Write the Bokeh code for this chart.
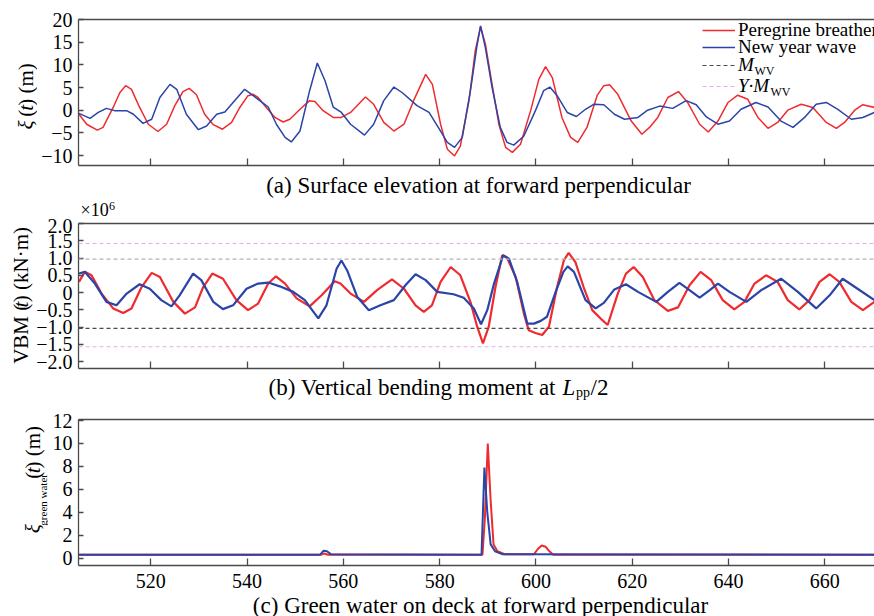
import math
from bokeh.plotting import figure
from bokeh.models import (FixedTicker, LinearAxis, Range1d, Span, Label,
                          Legend, LegendItem)
from bokeh.layouts import column, row
from bokeh.embed import file_html
from bokeh.resources import INLINE

# ---------------- data ----------------
X_TICKS = [520, 540, 560, 580, 600, 620, 640, 660]

# (a) surface elevation at forward perpendicular (m)
RED_A_T = [505.1, 506.7, 508.9, 510.1, 512.2, 513.6, 514.8, 516.0, 517.7, 519.5, 521.5, 523.3,
           525.0, 526.7, 528.0, 529.5, 531.2, 533.0, 534.9, 536.8, 538.5, 540.2, 541.3, 542.3,
           544.0, 545.8, 547.5, 548.9, 551.0, 553.0, 554.1, 555.8, 557.9, 559.6, 561.5, 564.6,
           566.3, 568.4, 570.5, 572.6, 574.6, 577.1, 578.5, 580.2, 581.6, 583.1, 584.3, 586.1,
           587.4, 588.5, 589.5, 590.9, 592.3, 593.7, 595.1, 596.8, 598.9, 600.6, 602.0, 603.4,
           605.4, 607.2, 608.7, 610.6, 612.7, 614.1, 615.3, 617.0, 619.8, 622.0, 623.6, 625.3,
           627.4, 629.6, 631.5, 634.0, 635.8, 637.8, 639.9, 641.9, 644.0, 646.1, 648.2, 650.2,
           652.3, 655.1, 657.5, 660.3, 662.4, 664.1, 666.2, 667.9, 670.3]
RED_A_V = [-0.9, -3.1, -4.4, -3.8, 0.6, 3.9, 5.4, 4.6, 0.6, -3.1, -4.7, -3.1,
           1.0, 4.1, 4.8, 3.4, -0.9, -3.2, -4.2, -2.7, 0.6, 3.2, 3.5, 2.8,
           0.6, -1.6, -2.6, -2.0, 0.2, 2.1, 1.9, -0.1, -1.6, -1.6, -0.5, 2.9,
           1.3, -2.7, -4.6, -3.1, 2.1, 7.9, 5.7, -3.1, -8.6, -10.1, -7.9, 2.1,
           13.1, 18.4, 14.6, 5.7, -3.1, -8.2, -9.3, -7.5, -0.1, 6.8, 9.6, 7.2,
           -1.6, -6.0, -7.1, -3.8, 3.2, 5.4, 5.6, 3.5, -2.4, -5.3, -3.8, -1.6,
           2.8, 4.1, 1.7, -3.1, -4.8, -2.4, 1.7, 3.3, 2.4, -1.6, -4.0, -2.7,
           0.0, 1.3, 0.6, -2.7, -4.0, -2.7, 0.0, 1.2, 0.6]
BLUE_A_T = [505.1, 507.4, 509.1, 510.8, 512.5, 515.0, 516.4, 518.4, 520.2, 521.9, 524.0, 525.4,
            527.4, 529.9, 531.6, 533.7, 535.4, 537.1, 539.5, 541.3, 543.4, 544.4, 546.1, 547.9,
            549.2, 551.0, 553.0, 554.6, 556.2, 557.9, 559.6, 561.5, 564.4, 566.3, 568.4, 570.5,
            572.2, 575.3, 577.8, 580.2, 581.6, 583.1, 584.7, 586.4, 587.7, 588.5, 589.5, 590.9,
            592.6, 594.0, 595.4, 597.5, 599.9, 601.6, 602.9, 604.4, 606.5, 608.4, 610.3, 612.0,
            614.1, 616.3, 618.4, 621.2, 623.2, 625.7, 628.4, 631.2, 633.3, 635.4, 637.8, 640.2,
            642.6, 645.7, 648.2, 650.9, 653.4, 655.8, 658.2, 660.3, 662.7, 665.5, 667.9, 670.3]
BLUE_A_V = [-0.7, -1.8, -0.5, 0.4, -0.1, -0.1, -0.9, -2.9, -2.0, 2.8, 5.7, 4.6,
            -0.9, -4.3, -3.5, -0.9, -0.4, 1.7, 4.6, 3.2, 1.5, 0.7, -3.1, -6.0,
            -7.0, -4.6, 4.3, 10.4, 6.5, 0.7, -0.5, -3.1, -5.5, -3.1, 2.1, 5.1,
            3.9, 1.0, -0.5, -4.6, -7.1, -8.2, -6.0, 4.3, 13.8, 18.6, 13.8, 5.0,
            -3.8, -7.1, -7.7, -5.7, -0.1, 4.3, 5.1, 3.2, -0.5, -1.4, 0.2, 1.3,
            1.2, -0.9, -2.0, -1.6, 0.0, 0.9, 0.4, 2.1, 1.2, -1.5, -3.1, -2.4,
            0.2, 1.7, 0.7, -2.4, -3.8, -1.6, 1.3, 1.7, 0.2, -2.0, -1.6, -0.5]

# (b) vertical bending moment at Lpp/2 (x10^6 kN.m)
RED_B_T = [505.1, 506.3, 507.7, 509.8, 512.2, 514.3, 516.0, 518.1, 520.2, 521.9, 524.7, 527.1,
           529.2, 530.9, 532.8, 535.0, 537.8, 540.2, 542.3, 544.4, 546.0, 547.9, 550.3, 553.0,
           555.5, 558.2, 559.4, 561.5, 564.3, 567.0, 570.1, 572.6, 575.0, 576.7, 578.4, 580.2,
           582.3, 584.3, 586.4, 587.8, 589.0, 590.2, 591.6, 593.0, 594.0, 595.8, 597.5, 598.5,
           599.9, 601.3, 602.7, 604.4, 605.8, 606.8, 608.2, 609.9, 611.7, 613.8, 614.9, 617.0,
           618.7, 620.3, 622.2, 624.6, 627.4, 629.5, 631.9, 634.2, 636.4, 638.8, 641.2, 643.3,
           645.4, 647.8, 650.2, 652.3, 654.7, 656.8, 658.9, 661.0, 663.0, 665.5, 667.9, 670.3]
RED_B_V = [0.31, 0.60, 0.50, -0.03, -0.46, -0.59, -0.46, 0.16, 0.57, 0.45, -0.27, -0.61,
           -0.43, 0.16, 0.55, 0.40, -0.22, -0.51, -0.32, 0.26, 0.47, 0.26, -0.17, -0.40,
           -0.08, 0.33, 0.26, -0.03, -0.27, 0.07, 0.38, 0.11, -0.37, -0.56, -0.37, 0.31,
           0.74, 0.50, -0.27, -0.99, -1.47, -0.99, 0.16, 1.08, 1.01, 0.45, -0.61, -1.09,
           -1.17, -1.23, -0.99, 0.16, 0.93, 1.15, 0.88, 0.16, -0.51, -0.80, -0.94, -0.03,
           0.55, 0.74, 0.45, -0.22, -0.53, -0.43, 0.21, 0.60, 0.36, -0.22, -0.49, -0.27,
           0.26, 0.50, 0.31, -0.22, -0.49, -0.22, 0.31, 0.53, 0.31, -0.27, -0.51, -0.27]
BLUE_B_T = [505.1, 506.3, 508.4, 510.8, 512.9, 515.0, 517.7, 519.8, 522.2, 524.3, 526.0, 528.8,
            530.5, 533.0, 535.0, 537.1, 539.9, 542.3, 544.4, 546.8, 549.6, 552.0, 554.8, 556.5,
            558.6, 559.6, 560.8, 562.9, 565.3, 567.7, 570.5, 572.9, 575.0, 577.1, 579.5, 582.9,
            585.0, 587.1, 588.6, 589.9, 591.3, 593.2, 594.4, 596.1, 598.2, 599.6, 601.0, 602.3,
            604.1, 605.7, 606.6, 607.9, 610.3, 612.4, 614.1, 616.3, 618.7, 621.2, 625.0, 627.4,
            629.8, 631.9, 634.0, 636.1, 637.8, 640.2, 643.7, 646.8, 650.9, 654.4, 658.2, 661.0,
            663.7, 666.8, 670.3]
BLUE_B_V = [0.55, 0.60, 0.26, -0.27, -0.37, -0.03, 0.24, 0.11, -0.22, -0.40, -0.08, 0.55,
            0.36, -0.27, -0.48, -0.37, 0.11, 0.26, 0.29, 0.18, 0.02, -0.22, -0.75, -0.37,
            0.69, 0.93, 0.64, -0.13, -0.51, -0.37, -0.22, 0.21, 0.53, 0.36, 0.02, -0.05,
            -0.15, -0.46, -0.92, -0.51, 0.26, 1.08, 0.98, 0.31, -0.90, -0.90, -0.82, -0.70,
            0.02, 0.60, 0.76, 0.60, -0.22, -0.46, -0.30, 0.09, 0.24, 0.02, -0.27, 0.02,
            0.28, 0.07, -0.15, 0.07, 0.26, 0.02, -0.27, 0.07, 0.40, 0.02, -0.46, -0.08,
            0.40, 0.11, -0.22]
M_WV = [0.97, -1.04]      # hogging / sagging design moment (x10^6 kN.m)
Y_M_WV = [1.42, -1.57]    # factored design moment (x10^6 kN.m)

# (c) green water on deck at forward perpendicular (m)
RED_C_T = [505.0, 555.3, 556.0, 556.8, 588.9, 589.4, 590.0, 590.6, 591.2, 592.0, 593.5,
           599.6, 600.4, 601.2, 602.0, 602.8, 603.6, 670.3]
RED_C_V = [0.3, 0.3, 0.4, 0.3, 0.3, 3.5, 10.0, 5.0, 1.2, 0.6, 0.35,
           0.35, 0.8, 1.1, 1.0, 0.6, 0.3, 0.3]
BLUE_C_T = [505.0, 555.2, 555.9, 556.6, 557.4, 588.7, 589.3, 589.9, 590.6, 591.5, 593.0, 670.3]
BLUE_C_V = [0.3, 0.3, 0.65, 0.6, 0.35, 0.3, 7.9, 4.0, 1.2, 0.6, 0.35, 0.3]

# ---------------- styling / geometry ----------------
FONT = "Liberation Serif"
RED = "#ef2b2f"
BLUE = "#2b44a8"
AX = "#4a4a4a"
GRAY_LIGHT = "#b4b4b4"
GRAY_DARK = "#4d4d4d"
PINK = "#e3aee3"

PAGE_W = 874
PX0 = 78                      # page x of every frame's left edge
FRAME_W = PAGE_W - PX0
X0 = 505.0
X1 = X0 + FRAME_W / 4.815
ROT = math.pi / 2
CAP = "23px"


def style_axes(p, yticks, yover, xlabels):
    for ax in p.xaxis + p.yaxis:
        ax.axis_line_color = AX
        ax.axis_line_width = 1.3
        ax.major_tick_line_color = AX
        ax.major_tick_line_width = 1.3
        ax.minor_tick_line_color = None
        ax.major_tick_out = 0
        ax.minor_tick_out = 0
        ax.major_label_text_font = FONT
        ax.major_label_text_font_size = "20px"
        ax.major_label_text_color = "black"
        ax.major_label_standoff = 6
    p.xaxis.ticker = FixedTicker(ticks=X_TICKS)
    p.xaxis.major_tick_in = 7
    p.yaxis.ticker = FixedTicker(ticks=yticks)
    p.yaxis.major_tick_in = 5
    if yover:
        p.yaxis.major_label_overrides = yover
    if xlabels:
        p.xaxis.major_label_standoff = 8
    else:
        p.xaxis.major_label_overrides = {t: "" for t in X_TICKS}
        p.xaxis.major_label_text_font_size = "1px"
        p.xaxis.major_label_standoff = 0
    top = LinearAxis(ticker=FixedTicker(ticks=[]), axis_line_color=AX, axis_line_width=1.3,
                     major_tick_line_color=None, minor_tick_line_color=None,
                     major_tick_out=0, major_tick_in=0, minor_tick_out=0, minor_tick_in=0,
                     major_label_standoff=0)
    p.add_layout(top, "above")


def plot_fig(width, height, left, top, bottom, yr):
    p = figure(width=width, height=height, x_range=Range1d(X0, X1), y_range=Range1d(*yr),
               output_backend="svg", toolbar_location=None,
               min_border_left=left, min_border_right=0,
               min_border_top=top, min_border_bottom=bottom)
    p.grid.visible = False
    p.outline_line_color = None
    p.background_fill_color = "white"
    p.border_fill_color = "white"
    return p


def text_fig(width, height):
    p = figure(width=width, height=height, x_range=Range1d(0, width), y_range=Range1d(0, height),
               output_backend="svg", toolbar_location=None, x_axis_type=None, y_axis_type=None,
               min_border=0)
    p.outline_line_color = None
    p.background_fill_color = "white"
    p.border_fill_color = "white"
    return p


def lab(p, x, y, text, size, style="normal", align="left", angle=0.0):
    p.add_layout(Label(x=x, y=y, text=text, text_font=FONT, text_font_size=size,
                       text_font_style=style, text_align=align, text_baseline="middle",
                       text_color="black", angle=angle))


# ---------------- panel (a)  (page y 0..170) ----------------
YA = (-12.2, 20.0)
pa = plot_fig(PAGE_W - 37, 170, 41, 19, 5, YA)
style_axes(pa, [-10, -5, 0, 5, 10, 15, 20], {-10: "\u221210", -5: "\u22125"}, False)


def dya(py):
    return YA[1] - (py - 19) * (YA[1] - YA[0]) / 146


def dx(px):
    return X0 + (px - PX0) * (X1 - X0) / FRAME_W


r_red = pa.line(RED_A_T, RED_A_V, line_color=RED, line_width=1.5)
r_blue = pa.line(BLUE_A_T, BLUE_A_V, line_color=BLUE, line_width=1.5)
# legend samples for the design moments (given in kN.m, far outside this panel's range)
r_m = pa.line(x=X_TICKS[:2], y=[M_WV[0] * 1e6] * 2, line_color=GRAY_DARK, line_dash="4 3", line_width=1.2)
r_ym = pa.line(x=X_TICKS[:2], y=[Y_M_WV[0] * 1e6] * 2, line_color=PINK, line_dash="4 3", line_width=1.2)

leg_specs = [("Peregrine breather", r_red, "normal", 29.5),
             ("New year wave", r_blue, "normal", 46.5),
             ("M", r_m, "italic", 65.0),
             ("Y\u00b7M", r_ym, "italic", 85.5)]
for text, rend, style, cy in leg_specs:
    leg = Legend(items=[LegendItem(label=text, renderers=[rend])],
                 location=(702 - PX0, (165 - cy) - 11),
                 border_line_color=None, background_fill_alpha=0.0,
                 padding=0, margin=0, spacing=0, glyph_width=33, glyph_height=14,
                 label_height=14, label_standoff=3, label_text_font=FONT,
                 label_text_font_size="19px", label_text_font_style=style,
                 label_text_color="black")
    pa.add_layout(leg)
lab(pa, dx(754), dya(70), "WV", "12px")
lab(pa, dx(770), dya(91.5), "WV", "12px")

ya_lab = text_fig(37, 170)            # page x 0..37, y 0..170 ; rotated label centred at x=25
lab(ya_lab, 25, 170 - 128, "\u03be", "21px", "italic", angle=ROT)
lab(ya_lab, 25, 170 - 113.3, "(", "21px", angle=ROT)
lab(ya_lab, 25, 170 - 106.3, "t", "21px", "italic", angle=ROT)
lab(ya_lab, 25, 170 - 100.5, ") (m)", "21px", angle=ROT)

# caption (a) and the x10^6 factor   (page y 170..218)
CAP_A_H = 48
cap_a = text_fig(PAGE_W, CAP_A_H)
lab(cap_a, 478, CAP_A_H - (185 - 170), "(a) Surface elevation at forward perpendicular", CAP, align="center")
lab(cap_a, 80, CAP_A_H - (209.5 - 170), "\u00d710", "18px")
lab(cap_a, 108.5, CAP_A_H - (205 - 170), "6", "12px")

# ---------------- panel (b)  (page y 218..373) ----------------
YB = (-2.2, 2.0)
pb = plot_fig(PAGE_W - 33, 155, 45, 5, 5, YB)
over_b = {2: "2.0", 1.5: "1.5", 1: "1.0", 0.5: "0.5", 0: "0",
          -0.5: "\u22120.5", -1: "\u22121.0", -1.5: "\u22121.5", -2: "\u22122.0"}
style_axes(pb, [-2, -1.5, -1, -0.5, 0, 0.5, 1, 1.5, 2], over_b, False)

pb.add_layout(Span(location=Y_M_WV[0], dimension="width", line_color=PINK, line_dash="4 3", line_width=1.2))
pb.add_layout(Span(location=Y_M_WV[1], dimension="width", line_color=PINK, line_dash="4 3", line_width=1.2))
pb.add_layout(Span(location=M_WV[0], dimension="width", line_color=GRAY_LIGHT, line_dash="4 3", line_width=1.2))
pb.add_layout(Span(location=M_WV[1], dimension="width", line_color=GRAY_DARK, line_dash="4 3", line_width=1.2))
pb.line(RED_B_T, RED_B_V, line_color=RED, line_width=2.2)
pb.line(BLUE_B_T, BLUE_B_V, line_color=BLUE, line_width=2.2)

YB_H = 155
yb_lab = text_fig(33, YB_H)           # page x 0..33, y 218..373 ; rotated label centred at x=20
lab(yb_lab, 20, YB_H - (368 - 218), "VBM (", "21px", angle=ROT)
lab(yb_lab, 20, YB_H - (307.9 - 218), "t", "21px", "italic", angle=ROT)
lab(yb_lab, 20, YB_H - (302.1 - 218), ") (kN\u00b7m)", "21px", angle=ROT)

# caption (b)   (page y 373..412)
cap_b = text_fig(PAGE_W, 39)
cb = 39 - (387 - 373)
lab(cap_b, 268, cb, "(b) Vertical bending moment at", CAP)
lab(cap_b, 562, cb, "L", CAP, "italic")
lab(cap_b, 575.5, 39 - (392 - 373), "pp", "14px")
lab(cap_b, 590, cb, "/2", CAP)

# ---------------- panel (c)  (page y 412..597) ----------------
YC = (-0.64, 12.09)
pc = plot_fig(PAGE_W - 48, 185, 30, 7, 32, YC)
style_axes(pc, [0, 2, 4, 6, 8, 10, 12], None, True)

pc.line(RED_C_T, RED_C_V, line_color=RED, line_width=2.0)
pc.line(BLUE_C_T, BLUE_C_V, line_color=BLUE, line_width=2.0)

yc_lab = text_fig(48, 185)            # page x 0..48, y 412..597
lab(yc_lab, 32, 185 - (556 - 412), "\u03be", "21px", "italic", angle=ROT)
lab(yc_lab, 42, 185 - (546.5 - 412), "green water", "11px", angle=ROT)
lab(yc_lab, 32, 185 - (487 - 412), "(", "21px", angle=ROT)
lab(yc_lab, 32, 185 - (480 - 412), "t", "21px", "italic", angle=ROT)
lab(yc_lab, 32, 185 - (474.2 - 412), ") (m)", "21px", angle=ROT)

# caption (c)   (page y 597..616)
cap_c = text_fig(PAGE_W, 19)
lab(cap_c, 480, 19 - (604.5 - 597), "(c) Green water on deck at forward perpendicular", CAP, align="center")

layout = column(row(ya_lab, pa, spacing=0), cap_a,
                row(yb_lab, pb, spacing=0), cap_b,
                row(yc_lab, pc, spacing=0), cap_c, spacing=0)
open("out.html", "w").write(file_html(layout, INLINE))
